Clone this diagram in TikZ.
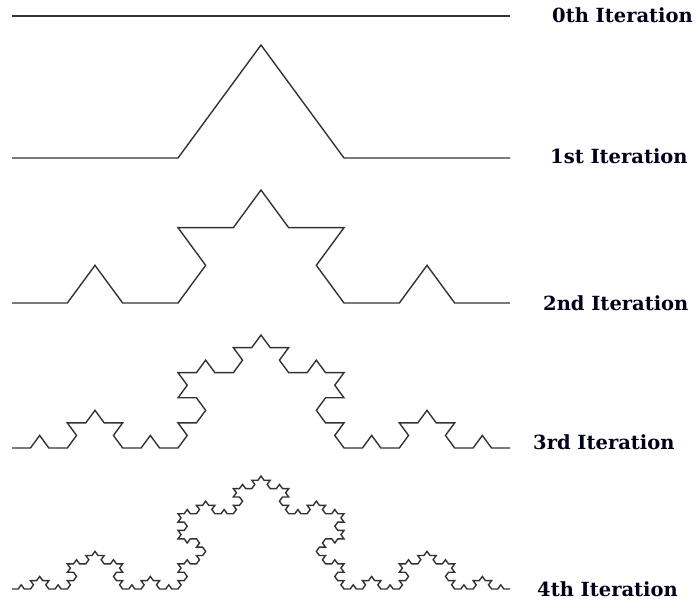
\documentclass[tikz,border=0pt]{standalone}
\usepackage{fontspec}
\setmainfont{DejaVu Serif}
\usetikzlibrary{lindenmayersystems}
\tikzset{
  koch/.style={draw=black!80, line width=1.4pt, line join=miter, line cap=butt},
  lab/.style={anchor=base west, inner sep=0pt, text=black!90!blue, font=\bfseries\fontsize{19.5}{22}\selectfont}
}
\begin{document}
\begin{tikzpicture}[x=1pt,y=1pt]
\useasboundingbox (0,0) rectangle (699,-600);
\foreach \n/\yy/\st in {0/16/498, 1/158/166, 2/303/55.3333, 3/448/18.4444, 4/589/6.14815}{
  \begin{scope}[shift={(12,-\yy)}, yscale=0.786]
    \draw[koch] (0,0) [lindenmayer system={rule set={F -> F+F--F+F}, axiom=F, order=\n, step=\st pt, angle=60}] lindenmayer system;
  \end{scope}
}
\node[lab] (l0) at (552,-22) {0th Iteration};
\node[lab] (l1) at (550,-163) {1st Iteration};
\node[lab] (l2) at (543,-310) {2nd Iteration};
\node[lab] (l3) at (533,-449) {3rd Iteration};
\node[lab] (l4) at (537,-596) {4th Iteration};
\end{tikzpicture}
\end{document}
